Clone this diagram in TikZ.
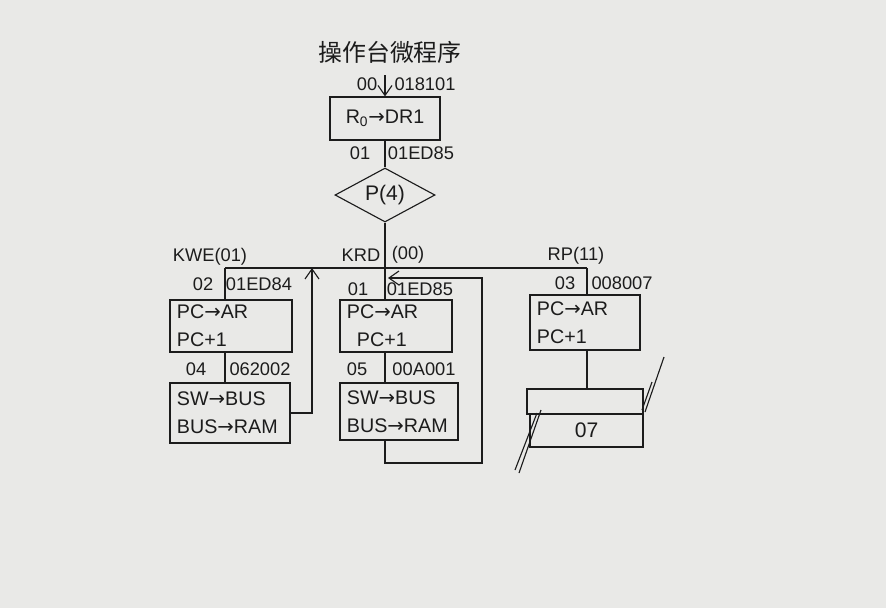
\documentclass[tikz,border=0pt]{standalone}
\usepackage{fontspec}
\setmainfont{Liberation Sans}
\newfontfamily\cjkfont{Noto Sans CJK SC}
\newfontfamily\arrowfont{DejaVu Sans}
\usepackage{xcolor}
\usepackage{tikz}
\usetikzlibrary{arrows.meta, positioning, shapes.geometric}
\definecolor{paper}{RGB}{233,233,231}
\definecolor{pen}{RGB}{28,28,28}
\newcommand{\tto}{{\arrowfont\char"2192}}

\begin{document}
\begin{tikzpicture}[x=0.025cm, y=-0.025cm, line width=0.8pt, color=pen,
		mbox/.style={draw, rectangle, align=left, inner xsep=5pt, inner ysep=3pt, font=\fontsize{14}{20}\selectfont},
		addr/.style={inner sep=1pt, font=\fontsize{13}{15}\selectfont},
		flow/.style={-{Straight Barb[length=2.5mm, width=3.5mm]}}]
		\fill[paper] (0,0) rectangle (886,608);
		\useasboundingbox (0,0) rectangle (886,608);
		% Paths, nodes and wires:
		\node[font=\cjkfont\fontsize{17}{17}\selectfont](title) at (390,52){操作台微程序};
		\coordinate (start) at (385,75);
		\node[mbox, align=center, minimum width=2.75cm, minimum height=1.075cm](R0DR) at (385,118.5){R\textsubscript{0}\tto DR1};
		\draw[flow] (start) -- (R0DR.north);
		\node[addr](a00) at (367,84){00};
		\node[addr](m00) at (425,84){018101};
		\node[diamond, draw, aspect=1.85, minimum width=2.5cm, minimum height=1.35cm, inner sep=0pt, font=\fontsize{15}{15}\selectfont](P4) at (385,195){P(4)};
		\draw (R0DR.south) -- (P4.north);
		\node[addr](a01) at (360,153){01};
		\node[addr](m01) at (421,153){01ED85};
		% branch bus
		\coordinate (J) at (385,268);
		\coordinate (busL) at (225,268);
		\coordinate (busR) at (587,268);
		\draw (P4.south) -- (J);
		\draw (busL) -- (busR);
		\node[addr](kwe) at (210,257){KWE(01)};
		\node[addr](krd) at (361,255){KRD};
		\node[addr](krdc) at (408,255){(00)};
		\node[addr](rp) at (576,256){RP(11)};
		% KWE branch
		\node[mbox, text width=2.7cm, minimum height=1.3cm](LA) at (231,326){PC\tto AR\\PC+1};
		\node[mbox, text width=2.65cm, minimum height=1.5cm](LB) at (230,413){SW\tto BUS\\BUS\tto RAM};
		\draw (busL) -- (busL |- LA.north);
		\draw (LA.south -| busL) -- (LB.north -| busL);
		\coordinate (upL) at (312,268);
		\draw[flow] (LB.east) -| (upL);
		\node[addr](a02) at (203,284){02};
		\node[addr](m02) at (259,284){01ED84};
		\node[addr](a04) at (196,369){04};
		\node[addr](m04) at (260,369){062002};
		% KRD branch
		\node[mbox, text width=2.45cm, minimum height=1.3cm](MA) at (396,326){PC\tto AR\\\hspace*{0.25cm}PC+1};
		\node[mbox, text width=2.6cm, minimum height=1.425cm](MB) at (399,411.5){SW\tto BUS\\BUS\tto RAM};
		\draw (J) -- (J |- MA.north);
		\draw (MA.south -| J) -- (MB.north -| J);
		\coordinate (loopB) at (385,463);
		\coordinate (loopR) at (482,278);
		\coordinate (loopT) at (388,278);
		\draw[flow] (MB.south -| J) -- (loopB) -| (loopR) -- (loopT);
		\node[addr](a01b) at (358,289){01};
		\node[addr](m01b) at (420,289){01ED85};
		\node[addr](a05) at (357,369){05};
		\node[addr](m05) at (424,369){00A001};
		% RP branch
		\node[mbox, text width=2.4cm, minimum height=1.375cm](RA) at (585,322.5){PC\tto AR\\PC+1};
		\draw (busR) -- (busR |- RA.north);
		\node[addr](a03) at (565,283){03};
		\node[addr](m03) at (622,283){008007};
		\node[draw, minimum width=2.9cm, minimum height=0.625cm, inner sep=0pt](T1) at (585,401.5){};
		\node[draw, minimum width=2.825cm, minimum height=0.825cm, inner sep=0pt, font=\fontsize{15}{15}\selectfont](T2) at (586.5,430.5){07};
		\draw (RA.south -| busR) -- (T1.north -| busR);
		\draw (645,412) -- (664,357);
		\draw (642,410) -- (652,382);
		\draw (515,470) -- (537,413);
		\draw (519,473) -- (541,410);
	\end{tikzpicture}
\end{document}
